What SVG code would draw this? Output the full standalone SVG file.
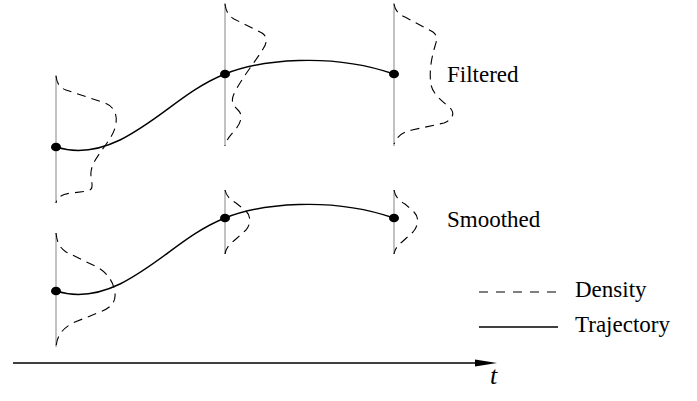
<svg xmlns="http://www.w3.org/2000/svg" width="697" height="401" viewBox="0 0 697 401">
<defs>
<style>
.axis{stroke:#999;stroke-width:1.2;fill:none}
.traj{stroke:#000;stroke-width:1.4;fill:none}
.dens{stroke:#000;stroke-width:1.1;fill:none;stroke-dasharray:9 6}
.dot{fill:#000}
</style>
</defs>
<rect width="697" height="401" fill="#fff"/>
<g id="filtered-t1">
<line class="axis" x1="56" y1="75" x2="56" y2="203"/>
<path class="dens" d="M56,76 C57,84 60,88 66,90 L105,103 C118,108 119,122 112,135 C105,148 92,160 91,172 C90,182 96,188 88,191 L72,193 C62,194 57,197 56,203"/>
</g>
<g id="filtered-t2">
<line class="axis" x1="225" y1="3" x2="225" y2="146"/>
<path class="dens" d="M225,4 C226,12 229,16 234,19 L262,33 C268,37 267,43 263,49 C255,62 242,78 236,90 C230,100 232,104 238,110 C244,116 240,124 235,130 C230,136 226,140 225,146"/>
</g>
<g id="filtered-t3">
<line class="axis" x1="394" y1="3" x2="394" y2="146"/>
<path class="dens" d="M394,4 C395,10 398,14 405,17 L433,32 C438,36 437,40 435,46 C431,60 429,72 431,85 C433,95 445,103 451,109 C455,114 452,120 444,123 L412,130 C403,132 397,136 394,144"/>
</g>
<g id="smoothed-t1">
<line class="axis" x1="56" y1="233" x2="56" y2="347"/>
<path class="dens" d="M56,233 C57,242 59,247 66,252 L97,267 C108,273 114,283 115,293 C116,303 110,308 100,312 L75,322 C62,328 57,336 56,347"/>
</g>
<g id="smoothed-t2">
<line class="axis" x1="225" y1="190" x2="225" y2="254"/>
<path class="dens" d="M225,190 C226,195 229,199 236,203 L246,211 C251,216 251,224 246,230 L236,239 C230,244 226,247 225,254"/>
</g>
<g id="smoothed-t3">
<line class="axis" x1="394" y1="190" x2="394" y2="254"/>
<path class="dens" d="M394,190 C395,196 398,200 405,204 L414,212 C419,217 419,225 413,232 L402,242 C397,246 395,249 394,254"/>
</g>
<g id="connectors">
<path class="traj" d="M56,147 C75,153 95,152 120,140 C160,120 185,90 225,74 C260,60 330,52 394,74"/>
<path class="traj" d="M56,291 C75,297 95,296 120,284 C160,264 185,234 225,218 C260,204 330,196 394,218"/>
<line x1="13" y1="363" x2="478" y2="363" stroke="#000" stroke-width="1.4"/>
<polygon points="475,359.5 497,363 475,366.5" fill="#000"/>
</g>
<g id="dots">
<ellipse class="dot" cx="56" cy="147" rx="5" ry="4.3"/>
<ellipse class="dot" cx="225" cy="74" rx="5" ry="4.3"/>
<ellipse class="dot" cx="394" cy="74" rx="5" ry="4.3"/>
<ellipse class="dot" cx="56" cy="291" rx="5" ry="4.3"/>
<ellipse class="dot" cx="225" cy="218" rx="5" ry="4.3"/>
<ellipse class="dot" cx="394" cy="218" rx="5" ry="4.3"/>
</g>
<g id="labels" font-family="'Liberation Serif', 'DejaVu Serif', serif" font-size="23" fill="#000">
<text x="447" y="82">Filtered</text>
<text x="447" y="227">Smoothed</text>
</g>
<g id="legend" font-family="'Liberation Serif', 'DejaVu Serif', serif" font-size="23" fill="#000">
<line x1="479" y1="292" x2="558" y2="292" stroke="#000" stroke-width="1.1" stroke-dasharray="9 8"/>
<line x1="479" y1="327" x2="558" y2="327" stroke="#000" stroke-width="1.4"/>
<text x="575" y="297">Density</text>
<text x="575" y="332">Trajectory</text>
</g>
<text x="490" y="384" font-family="'Liberation Serif', 'DejaVu Serif', serif" font-style="italic" font-size="26" fill="#000">t</text>
</svg>
